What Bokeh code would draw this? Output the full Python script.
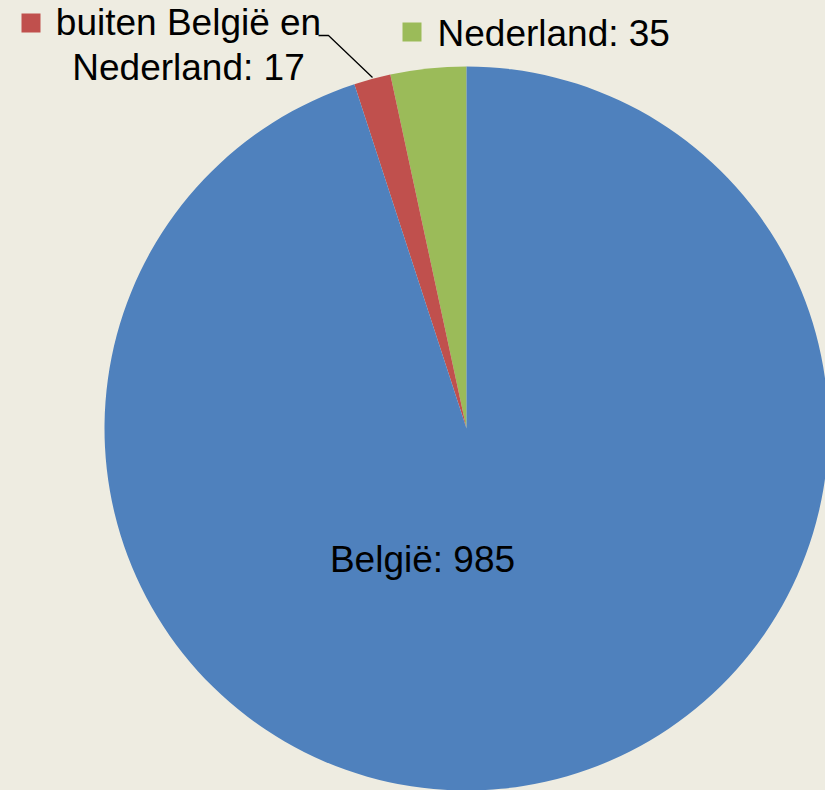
import math
from bokeh.plotting import figure
from bokeh.models import Range1d, ColumnDataSource
from bokeh.core.properties import value
from bokeh.embed import file_html
from bokeh.resources import INLINE

# data
categories = ["België", "buiten België en Nederland", "Nederland"]
values = [985, 17, 35]
colors = ["#4F81BD", "#C0504D", "#9BBB59"]

BG = "#EEECE1"
FONT = "Liberation Sans"

W, H = 825, 790
p = figure(width=W, height=H, output_backend="svg", toolbar_location=None,
           x_range=Range1d(0, W), y_range=Range1d(-H, 0),
           min_border=0)
p.axis.visible = False
p.grid.visible = False
p.outline_line_color = None
p.background_fill_color = BG
p.border_fill_color = BG

cx, cy, r = 466, -428, 362

# wedges counterclockwise from 12 o'clock: Nederland, buiten, België
total = sum(values)
order = [2, 1, 0]
starts, ends, cols = [], [], []
a = math.pi / 2
for i in order:
    span = values[i] / total * 2 * math.pi
    starts.append(a)
    ends.append(a + span)
    cols.append(colors[i])
    a += span
src = ColumnDataSource(dict(x=[cx] * 3, y=[cy] * 3, s=starts, e=ends, c=cols))
p.wedge(x="x", y="y", radius=r, start_angle="s", end_angle="e",
        fill_color="c", line_color=None, source=src)

labels = [f"{c}: {v}" for c, v in zip(categories, values)]
labels[1] = f"buiten België en\nNederland: {values[1]}"

tf = value(FONT)
FS = "37px"
DY = 13  # baseline correction
# België label inside pie
p.text(x=[422], y=[-572 + DY], text=[labels[0]], text_font=tf, text_font_size=FS,
       text_align="center", text_baseline="alphabetic", text_color="black")
# Nederland label
p.text(x=[437], y=[-46 + DY], text=[labels[2]], text_font=tf, text_font_size=FS,
       text_align="left", text_baseline="alphabetic", text_color="black")
p.scatter(x=[411.5], y=[-31.5], marker="square", size=19, fill_color=colors[2], line_color=None)
# buiten label (two lines)
l1, l2 = labels[1].split("\n")
p.text(x=[188, 188], y=[-35 + DY, -80 + DY], text=[l1, l2], text_font=tf, text_font_size=FS,
       text_align="center", text_baseline="alphabetic", text_color="black")
p.scatter(x=[30.5], y=[-22.5], marker="square", size=19, fill_color=colors[1], line_color=None)
# leader line
p.line(x=[318, 328, 372], y=[-35, -35, -77], line_color="black", line_width=1.3)

html = file_html(p, INLINE)
html = html.replace("<head>", "<head><style>html,body{background:%s;}</style>" % BG, 1)
open("out.html", "w").write(html)
